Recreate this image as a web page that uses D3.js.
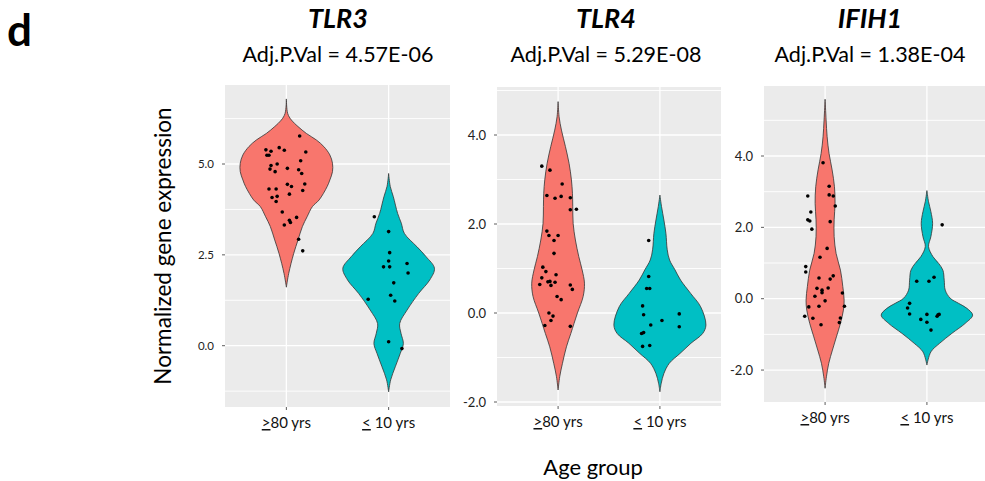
<!DOCTYPE html>
<html><head><meta charset="utf-8">
<script src="https://cdn.jsdelivr.net/npm/d3@7"></script>
<style>body{margin:0;background:#fff}svg{display:block}</style>
</head><body>
<script>
// ---------- data ----------
const panelLetter = "d";
const genes = ["TLR3", "TLR4", "IFIH1"];
const adjPValues = ["4.57E-06", "5.29E-08", "1.38E-04"];
const groupLabels = [">80 yrs", "< 10 yrs"];
const groupColors = ["#F8766D", "#00BFC4"];
const yLabel = "Normalized gene expression";
const xLabel = "Age group";
const yTicks = [[0, 2.5, 5], [-2, 0, 2, 4], [-2, 0, 2, 4]];
const yMinorTicks = [[-1.25, 1.25, 3.75, 6.25], [-1, 1, 3, 5], [-1, 1, 3, 5]];
const yTickLabels = [["0.0", "2.5", "5.0"], ["-2.0", "0.0", "2.0", "4.0"], ["-2.0", "0.0", "2.0", "4.0"]];

// points: [value, horizontal jitter in category units]
const tlr3Old = [[5.39,-0.20],[5.24,-0.19],[5.24,-0.17],[5.35,-0.15],[5.45,-0.07],[5.38,-0.02],[5.77,0.13],[5.33,0.19],[5.09,0.14],[5.00,-0.09],[4.96,-0.15],[4.86,-0.16],[4.79,-0.11],[4.88,0.01],[4.84,0.12],[4.74,0.15],[4.44,0.01],[4.38,0.05],[4.45,0.18],[4.31,-0.17],[4.31,-0.10],[4.17,0.03],[4.27,0.16],[4.08,-0.14],[4.11,-0.09],[3.97,-0.10],[3.68,-0.04],[3.53,0.10],[3.45,0.03],[3.39,0.04],[3.32,-0.02],[2.93,0.12],[2.61,0.16]];
const tlr3Young = [[3.55,-0.14],[3.14,0.00],[2.56,0.01],[2.33,0.00],[2.17,-0.05],[2.17,0.01],[2.26,0.18],[2.00,0.19],[1.73,0.05],[1.28,-0.20],[1.39,0.02],[1.23,0.06],[0.11,0.00],[-0.08,0.13]];
const tlr4Old = [[3.30,-0.16],[3.21,-0.08],[2.90,0.04],[2.64,-0.11],[2.58,-0.03],[2.62,0.03],[2.59,0.12],[2.32,0.12],[2.33,0.18],[1.84,-0.11],[1.74,-0.09],[1.74,0.00],[1.63,-0.04],[1.34,-0.04],[1.03,-0.15],[0.93,-0.12],[0.79,-0.16],[0.64,-0.18],[0.70,-0.10],[0.71,-0.08],[0.69,-0.03],[0.62,-0.07],[0.86,-0.02],[0.63,0.12],[0.53,0.14],[0.37,-0.01],[0.30,0.03],[0.00,-0.09],[-0.07,-0.05],[-0.28,-0.13],[-0.17,-0.07],[-0.30,0.12]];
const tlr4Young = [[1.63,-0.11],[0.82,-0.11],[0.55,-0.13],[0.55,-0.10],[0.16,-0.17],[-0.04,-0.16],[-0.02,0.19],[-0.17,0.02],[-0.27,-0.09],[-0.31,0.19],[-0.46,-0.18],[-0.44,-0.16],[-0.75,-0.17],[-0.73,-0.10]];
const ifih1Old = [[3.81,-0.02],[3.15,0.04],[2.91,0.04],[2.88,0.08],[2.88,-0.17],[2.60,0.10],[2.43,-0.14],[2.21,-0.17],[2.18,-0.15],[2.16,0.05],[1.95,-0.13],[1.41,0.02],[1.16,-0.05],[0.90,-0.19],[0.75,-0.19],[0.58,-0.06],[0.64,0.08],[0.55,0.05],[0.16,0.17],[0.29,-0.08],[0.30,0.03],[0.24,-0.03],[0.17,-0.03],[0.07,-0.10],[-0.06,0.00],[-0.21,-0.06],[-0.23,-0.16],[-0.21,0.19],[-0.49,-0.20],[-0.55,-0.12],[-0.54,0.15],[-0.67,0.14],[-0.73,-0.04]];
const ifih1Young = [[2.07,0.15],[0.49,-0.10],[0.49,0.02],[0.60,0.07],[-0.13,-0.17],[-0.26,-0.19],[-0.43,-0.17],[-0.58,-0.06],[-0.44,0.00],[-0.45,0.11],[-0.49,0.10],[-0.44,0.12],[-0.66,0.00],[-0.88,0.04]];

// violin outlines: [value, half width in category units]
const tlr3OldViolin = [[6.79,0],[6.39,.013],[6.21,.049],[6.03,.114],[5.84,.196],[5.66,.294],[5.48,.366],[5.25,.425],[5.02,.451],[4.79,.451],[4.56,.425],[4.38,.399],[4.01,.320],[3.83,.255],[3.55,.203],[3.28,.157],[2.91,.114],[2.54,.072],[1.99,.023],[1.61,0]];
const tlr3YoungViolin = [[4.74,0],[4.38,.016],[4.10,.046],[3.64,.088],[3.37,.124],[3.09,.154],[2.72,.278],[2.45,.366],[2.13,.448],[1.81,.402],[1.44,.294],[0.98,.180],[0.61,.108],[0.34,.121],[0.06,.144],[-0.21,.114],[-0.58,.065],[-0.94,.020],[-1.27,0]];
const tlr4OldViolin = [[4.75,0],[4.41,.010],[4.11,.033],[3.74,.072],[3.36,.108],[2.99,.131],[2.69,.141],[2.39,.144],[2.01,.148],[1.64,.170],[1.27,.203],[0.97,.236],[0.67,.259],[0.37,.246],[0.00,.190],[-0.46,.125],[-0.76,.082],[-1.13,.043],[-1.43,.016],[-1.73,0]];
const tlr4YoungViolin = [[2.65,0],[2.39,.016],[2.09,.039],[1.79,.059],[1.42,.072],[1.19,.095],[0.97,.148],[0.74,.203],[0.44,.302],[0.14,.400],[-0.27,.452],[-0.46,.420],[-0.68,.305],[-0.91,.197],[-1.13,.092],[-1.36,.039],[-1.58,.013],[-1.77,0]];
const ifih1OldViolin = [[5.59,0],[5.01,.010],[4.54,.020],[4.07,.039],[3.61,.069],[3.14,.092],[2.67,.098],[2.21,.089],[1.74,.089],[1.27,.108],[0.80,.151],[0.34,.174],[-0.04,.187],[-0.32,.180],[-0.69,.151],[-1.07,.111],[-1.44,.072],[-1.81,.036],[-2.19,.013],[-2.51,0]];
const ifih1YoungViolin = [[3.03,0],[2.72,.016],[2.44,.039],[2.11,.056],[1.74,.039],[1.46,.016],[1.18,.059],[0.99,.115],[0.80,.157],[0.52,.170],[0.24,.180],[0.01,.230],[-0.13,.311],[-0.27,.393],[-0.46,.449],[-0.69,.377],[-0.97,.246],[-1.25,.125],[-1.49,.039],[-1.86,0]];

const pointsByGene = [[tlr3Old, tlr3Young], [tlr4Old, tlr4Young], [ifih1Old, ifih1Young]];
const violinsByGene = [[tlr3OldViolin, tlr3YoungViolin], [tlr4OldViolin, tlr4YoungViolin], [ifih1OldViolin, ifih1YoungViolin]];

// ---------- layout ----------
const W = 985, H = 481;
const FONT = "Lato, 'Open Sans', sans-serif";
const layout = [
  {x0: 225, x1: 450, top: 85, bottom: 407, a: [0, 345.7], b: [5, 164], tickFont: 11.5, titleX: 338},
  {x0: 497, x1: 721, top: 87, bottom: 406, a: [0, 313], b: [4, 135], tickFont: 13, titleX: 606},
  {x0: 764, x1: 988, top: 86, bottom: 402, a: [0, 298.7], b: [4, 156], tickFont: 13, titleX: 870}
];

const svg = d3.select("body").append("svg").attr("width", W).attr("height", H)
  .style("font-family", FONT);

svg.append("text").attr("x", 7).attr("y", 46).attr("font-size", 44).attr("font-weight", "bold")
  .attr("fill", "#000").text(panelLetter);

svg.append("text").attr("transform", "translate(171,246) rotate(-90)").attr("text-anchor", "middle")
  .attr("font-size", 22.5).attr("fill", "#000").text(yLabel);

svg.append("text").attr("x", 593).attr("y", 475).attr("text-anchor", "middle")
  .attr("font-size", 22).attr("fill", "#000").text(xLabel);

layout.forEach((L, gi) => {
  const g = svg.append("g");
  const x = d3.scaleLinear().domain([0.4, 2.6]).range([L.x0, L.x1]);
  const y = d3.scaleLinear().domain([L.a[0], L.b[0]]).range([L.a[1], L.b[1]]);
  const inPanel = v => y(v) >= L.top && y(v) <= L.bottom;

  // titles
  g.append("text").attr("x", L.titleX).attr("y", 28).attr("text-anchor", "middle")
    .attr("font-size", 27).attr("font-weight", "bold").attr("font-style", "italic")
    .attr("fill", "#000").text(genes[gi]);
  g.append("text").attr("x", L.titleX).attr("y", 62).attr("text-anchor", "middle")
    .attr("font-size", 21.5).attr("fill", "#000").text("Adj.P.Val = " + adjPValues[gi]);

  // panel background
  g.append("rect").attr("x", L.x0).attr("y", L.top).attr("width", L.x1 - L.x0)
    .attr("height", L.bottom - L.top).attr("fill", "#EBEBEB");

  // gridlines
  g.selectAll(".minor").data(yMinorTicks[gi].filter(inPanel)).enter().append("line")
    .attr("x1", L.x0).attr("x2", L.x1).attr("y1", d => y(d)).attr("y2", d => y(d))
    .attr("stroke", "#fff").attr("stroke-width", 0.9);
  g.selectAll(".major").data(yTicks[gi]).enter().append("line")
    .attr("x1", L.x0).attr("x2", L.x1).attr("y1", d => y(d)).attr("y2", d => y(d))
    .attr("stroke", "#fff").attr("stroke-width", 1.3);
  g.selectAll(".vgrid").data([1, 2]).enter().append("line")
    .attr("x1", d => x(d)).attr("x2", d => x(d)).attr("y1", L.top).attr("y2", L.bottom)
    .attr("stroke", "#fff").attr("stroke-width", 1.3);

  // violins
  violinsByGene[gi].forEach((prof, ci) => {
    const c = ci + 1;
    const area = d3.area().curve(d3.curveCatmullRom.alpha(0.5))
      .y(d => y(d[0])).x0(d => x(c - d[1])).x1(d => x(c + d[1]));
    g.append("path").attr("d", area(prof)).attr("fill", groupColors[ci])
      .attr("stroke", "#333").attr("stroke-width", 0.8);
  });

  // points
  pointsByGene[gi].forEach((pts, ci) => {
    const c = ci + 1;
    g.selectAll(null).data(pts).enter().append("circle")
      .attr("cx", d => x(c + d[1])).attr("cy", d => y(d[0])).attr("r", 1.8).attr("fill", "#000");
  });

  // y ticks + labels
  yTicks[gi].forEach((t, k) => {
    g.append("line").attr("x1", L.x0 - 3).attr("x2", L.x0).attr("y1", y(t)).attr("y2", y(t))
      .attr("stroke", "#333").attr("stroke-width", 0.8);
    g.append("text").attr("x", L.x0 - 11).attr("y", y(t)).attr("dy", "0.35em")
      .attr("text-anchor", "end").attr("font-size", L.tickFont).attr("fill", "#222")
      .text(yTickLabels[gi][k]);
  });

  // x ticks + labels
  groupLabels.forEach((lab, ci) => {
    const cx = x(ci + 1);
    g.append("line").attr("x1", cx).attr("x2", cx).attr("y1", L.bottom).attr("y2", L.bottom + 3)
      .attr("stroke", "#333").attr("stroke-width", 0.8);
    const t = g.append("text").attr("x", cx).attr("y", L.bottom + 21).attr("text-anchor", "middle")
      .attr("font-size", 15).attr("fill", "#111");
    t.append("tspan").attr("text-decoration", "underline").text(lab.charAt(0));
    t.append("tspan").text(lab.slice(1));
  });
});
</script>
</body></html>
